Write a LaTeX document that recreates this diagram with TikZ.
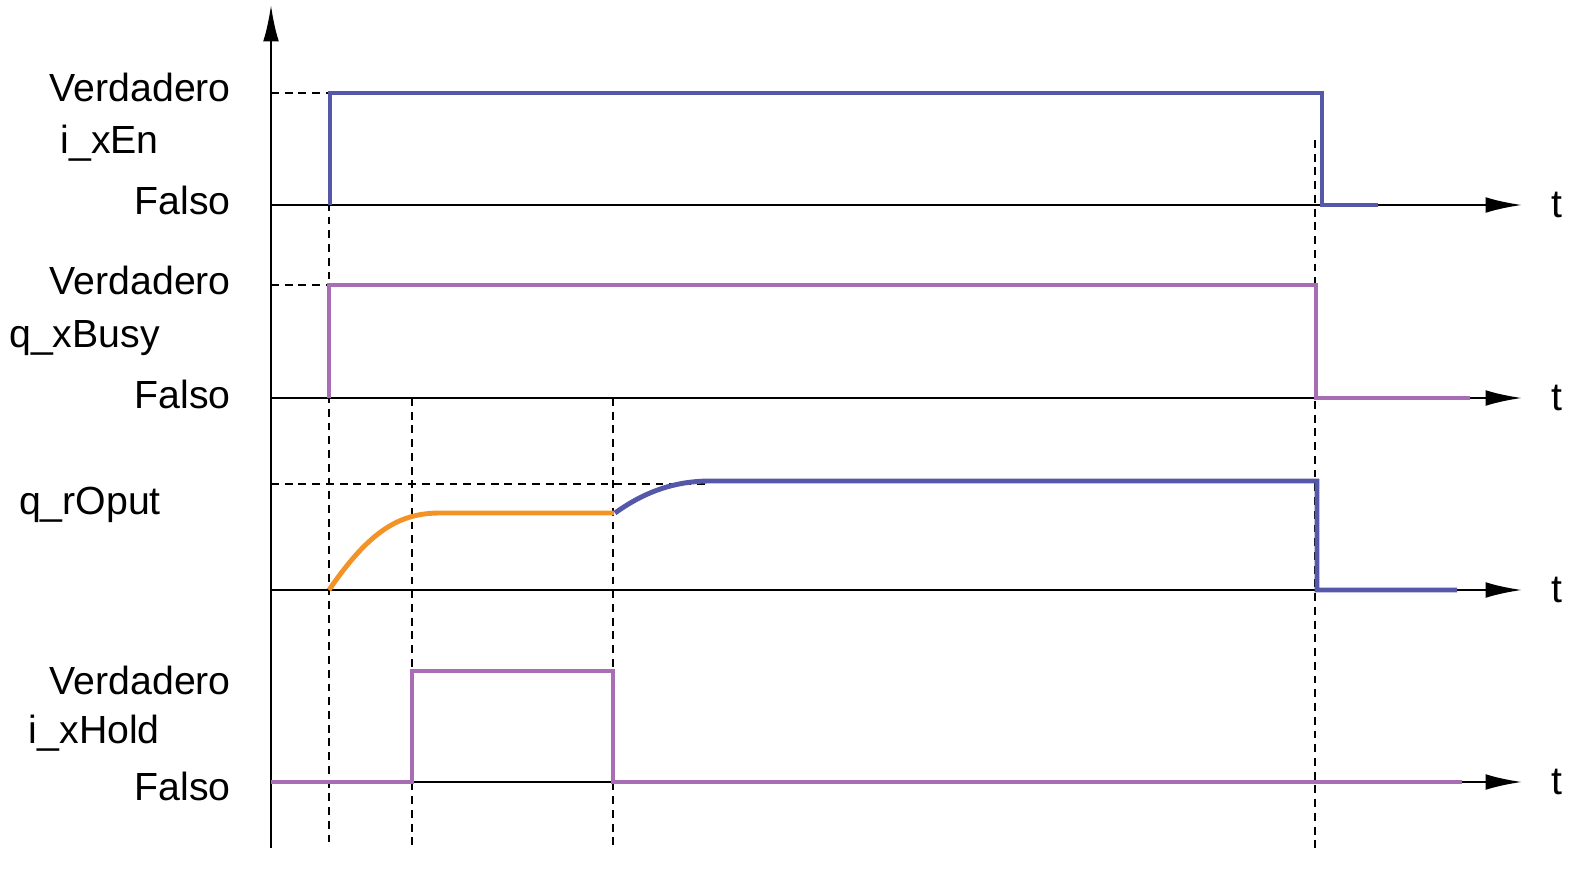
\documentclass[tikz,border=0pt]{standalone}
\usepackage{fontspec}
\setmainfont{Liberation Sans}
\usetikzlibrary{arrows.meta}
\definecolor{sigblue}{RGB}{85,88,168}
\definecolor{sigpurple}{RGB}{169,109,181}
\definecolor{sigorange}{RGB}{243,147,37}
\tikzset{
  axis/.style={line width=2.6pt,-{Latex[length=37pt,width=16pt]}},
  guide/.style={line width=2pt,dash pattern=on 8pt off 6pt},
  signal/.style={line width=5pt},
  lab/.style={anchor=east,font=\fontsize{40}{42}\selectfont,inner sep=0pt}
}
\begin{document}
\begin{tikzpicture}[x=1.0194pt,y=-1.0194pt]
\useasboundingbox (0,0) rectangle (1596,870);

%axes
\draw[axis] (271,848) -- (271,5);
\foreach \yy in {205,398,590,782}{
  \draw[axis] (271,\yy) -- (1522,\yy);
  \node[font=\fontsize{40}{42}\selectfont] at (1557,\yy) {t};
}

%labels
\node[lab] at (231,87) {Verdadero};
\node[lab] at (159,143) {i\_xEn};
\node[lab] at (231,200) {Falso};
\node[lab] at (231,280) {Verdadero};
\node[lab] at (160,338) {q\_xBusy};
\node[lab] at (231,394) {Falso};
\node[lab] at (161,505) {q\_rOput};
\node[lab] at (231,680) {Verdadero};
\node[lab] at (160,733) {i\_xHold};
\node[lab] at (231,786) {Falso};

%guides
\draw[guide] (271,93) -- (330,93);
\draw[guide] (271,285) -- (329,285);
\draw[guide] (271,484) -- (710,484);
\draw[guide] (329,93) -- (329,848);
\draw[guide] (412,398) -- (412,848);
\draw[guide] (613,398) -- (613,848);
\draw[guide] (1315,140) -- (1315,848);

%signals
\draw[signal,sigblue] (330,205) -- (330,93) -- (1322,93) -- (1322,205) -- (1378,205);
\draw[signal,sigpurple] (329,398) -- (329,285) -- (1316,285) -- (1316,398) -- (1470,398);
\draw[signal,sigorange] (329,590) .. controls (370,530) and (400,513) .. (440,513) -- (614,513);
\draw[signal,sigblue] (615,513) .. controls (640,495) and (670,481) .. (710,481) -- (1317,481) -- (1317,590) -- (1457,590);
\draw[signal,sigpurple] (271,782) -- (412,782) -- (412,671) -- (613,671) -- (613,782) -- (1462,782);
\end{tikzpicture}
\end{document}
